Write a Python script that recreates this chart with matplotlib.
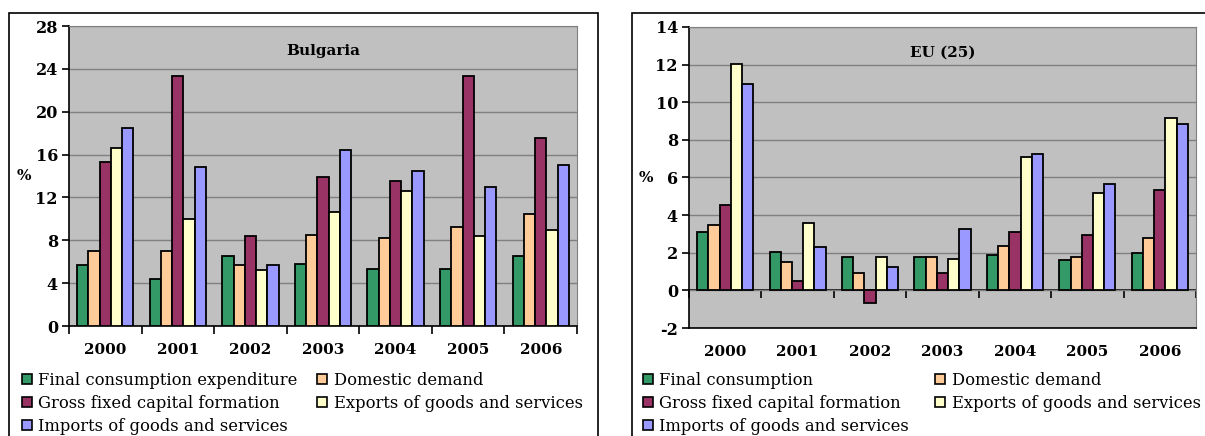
import numpy as np
import matplotlib
matplotlib.use("Agg")
import matplotlib.pyplot as plt
from matplotlib.patches import Rectangle, Patch

plt.rcParams['font.family'] = 'DejaVu Serif'
plt.rcParams['axes.unicode_minus'] = False

# data
years = ['2000', '2001', '2002', '2003', '2004', '2005', '2006']

bg_final = [5.7, 4.4, 6.5, 5.8, 5.3, 5.3, 6.5]
bg_domestic = [7.0, 7.0, 5.7, 8.5, 8.2, 9.2, 10.5]
bg_gfcf = [15.3, 23.3, 8.4, 13.9, 13.5, 23.3, 17.5]
bg_exports = [16.6, 10.0, 5.2, 10.6, 12.6, 8.4, 9.0]
bg_imports = [18.5, 14.8, 5.7, 16.4, 14.5, 13.0, 15.0]

eu_final = [3.1, 2.05, 1.75, 1.75, 1.9, 1.6, 2.0]
eu_domestic = [3.5, 1.5, 0.95, 1.75, 2.35, 1.75, 2.8]
eu_gfcf = [4.55, 0.5, -0.65, 0.95, 3.1, 2.95, 5.35]
eu_exports = [12.05, 3.6, 1.75, 1.65, 7.1, 5.2, 9.15]
eu_imports = [10.95, 2.3, 1.25, 3.25, 7.25, 5.65, 8.85]

bg_labels = ['Final consumption expenditure', 'Domestic demand',
             'Gross fixed capital formation', 'Exports of goods and services',
             'Imports of goods and services']
eu_labels = ['Final consumption', 'Domestic demand',
             'Gross fixed capital formation', 'Exports of goods and services',
             'Imports of goods and services']

colors = ['#339966', '#FFCC99', '#993366', '#FFFFCC', '#9999FF']

W, H = 1205, 436
fig = plt.figure(figsize=(W / 100, H / 100), dpi=100)

# outer chart frames
fig.add_artist(Rectangle((9 / W, -0.1), 589 / W, (H - 13) / H + 0.1,
                         transform=fig.transFigure, fill=False, ec='black', lw=1.2))
fig.add_artist(Rectangle((632 / W, -0.1), 0.6, (H - 13) / H + 0.1,
                         transform=fig.transFigure, fill=False, ec='black', lw=1.2))

ax1 = fig.add_axes([69 / W, 110 / H, 508 / W, 300 / H])
ax2 = fig.add_axes([689 / W, 108 / H, 507 / W, 301 / H])


def draw(ax, series, labels, title, ylim, step, legend_x, colspace):
    x = np.arange(len(years))
    bw = 0.155
    for i, (vals, c) in enumerate(zip(series, colors)):
        ax.bar(x + (i - 2) * bw, vals, bw, color=c, edgecolor='black',
               linewidth=1.3, zorder=3)
    ax.set_facecolor('#C0C0C0')
    ax.set_xlim(-0.5, len(years) - 0.5)
    ax.set_ylim(*ylim)
    ax.set_yticks(np.arange(ylim[0], ylim[1] + 0.1, step))
    ax.yaxis.grid(True, color='#808080', lw=1, zorder=0)
    ax.set_axisbelow(True)
    for s in ['top', 'right']:
        ax.spines[s].set_color('#808080')
    for s in ['left', 'bottom']:
        ax.spines[s].set_color('black')
        ax.spines[s].set_linewidth(1.2)
    ax.tick_params(axis='y', direction='out', length=5, width=1.2,
                   labelsize=11.5, pad=3)
    for t in ax.get_yticklabels():
        t.set_fontweight('bold')
    ax.set_xticks(x)
    ax.set_xticklabels(years, fontweight='bold', fontsize=11)
    ax.tick_params(axis='x', length=0, pad=12)
    ax.set_ylabel('%', rotation=0, fontweight='bold', fontsize=11, va='center')
    ax.text(0.5, 0.915, title, transform=ax.transAxes, ha='center', va='center',
            fontweight='bold', fontsize=11)
    # legend filled row by row
    order = [0, 2, 4, 1, 3]
    hs = [Patch(facecolor=colors[k], edgecolor='black', lw=1.2) for k in order]
    ls = [labels[k] for k in order]
    ax.legend(hs, ls, loc='upper left', bbox_to_anchor=(legend_x / W, 64 / H),
              bbox_transform=fig.transFigure, ncol=2, frameon=False,
              fontsize=11.8, handlelength=0.6, handleheight=0.6,
              handletextpad=0.4, columnspacing=colspace, labelspacing=0.36,
              borderpad=0, borderaxespad=0)


draw(ax1, [bg_final, bg_domestic, bg_gfcf, bg_exports, bg_imports],
     bg_labels, 'Bulgaria', (0, 28), 4, 22, 1.2)
ax1.set_xticks(np.arange(-0.5, len(years)), minor=True)
ax1.tick_params(axis='x', which='minor', direction='out', length=6, width=1.2)
ax1.yaxis.set_label_coords(-0.089, 0.5)

draw(ax2, [eu_final, eu_domestic, eu_gfcf, eu_exports, eu_imports],
     eu_labels, 'EU (25)', (-2, 14), 2, 643, 1.6)
ax2.yaxis.set_label_coords(-0.085, 0.5)
# category ticks sit on the zero line
zero = ax2.secondary_xaxis(2 / 16)
zero.set_xticks(np.arange(-0.5, len(years)))
zero.set_xticklabels([])
zero.tick_params(axis='x', direction='out', length=6, width=1.2)
zero.spines['bottom'].set_linewidth(1.2)

fig.savefig('out.png', dpi=100)
